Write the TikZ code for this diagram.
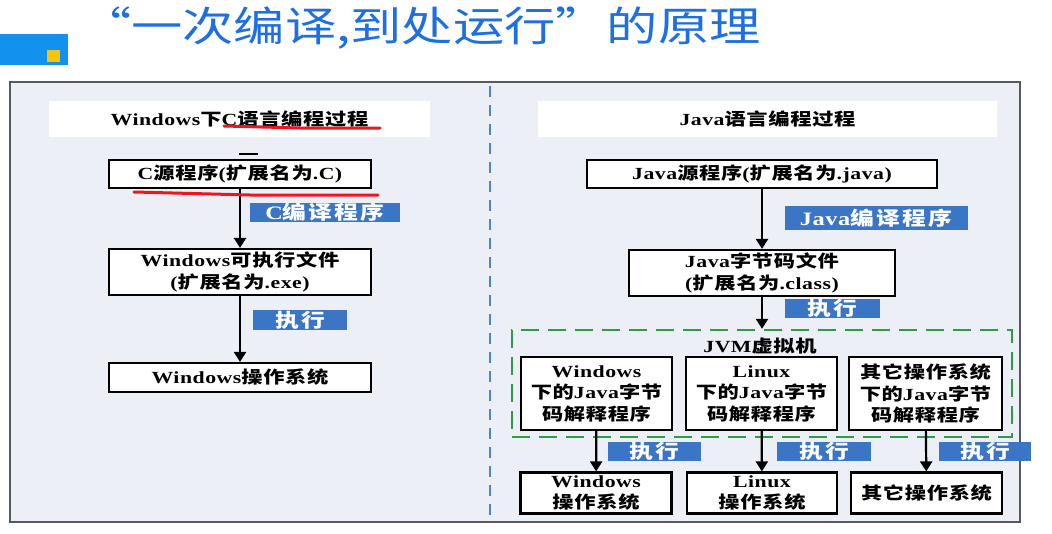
\documentclass[tikz,border=0pt]{standalone}
\usepackage{fontspec}
\setmainfont{Liberation Serif}[FakeStretch=1.28, LetterSpace=3]
\newfontfamily\cjk{Noto Sans CJK SC}[FakeStretch=1.25, LetterSpace=4]
\newfontfamily\cjkw{Noto Sans CJK SC}[FakeStretch=1.25, LetterSpace=12]
\newfontfamily\cjkt{Noto Sans CJK SC}[FakeStretch=1.25]
\newcommand\zh[1]{{\cjk #1}}
\definecolor{sqblue}{HTML}{1391EE}
\definecolor{sqyel}{HTML}{F7C408}
\definecolor{ttlblue}{HTML}{1E6FE3}
\definecolor{panelbg}{HTML}{ECEFF6}
\definecolor{panelline}{HTML}{555A60}
\definecolor{divblue}{HTML}{4A86D0}
\definecolor{lblblue}{HTML}{3B76C6}
\definecolor{jvmgreen}{HTML}{2E9B45}
\definecolor{redline}{HTML}{F0141E}
\usetikzlibrary{arrows.meta}
\tikzset{
  ttl/.style={text=ttlblue, font=\cjkt\fontsize{41}{45}\selectfont, inner sep=0},
  header/.style={fill=white, draw=none, minimum height=36, inner sep=0, font=\bfseries\fontsize{17}{20}\selectfont},
  box/.style={fill=white, draw=black, line width=2.2pt, inner sep=0, align=center, font=\bfseries\fontsize{17}{21.5}\selectfont},
  lbl/.style={fill=lblblue, text=white, inner sep=0, font=\let\cjk\cjkw\bfseries\fontsize{19}{20}\selectfont},
  arr/.style={draw=black, line width=2.2pt, -{Triangle[length=10pt,width=12pt]}},
  jvmbox/.style={draw=jvmgreen, line width=2.4pt, dash pattern=on 18pt off 9pt, inner sep=0},
  uline/.style={draw=redline, line width=3pt, line cap=round}
}
\begin{document}
\begin{tikzpicture}[x=1pt,y=-1pt]
\useasboundingbox (0,0) rectangle (1052,533);
\fill[white] (0,0) rectangle (1052,533);
% corner squares
\fill[sqblue] (0,34) rectangle (68,65);
\fill[sqyel] (47,50) rectangle (60,62);
% title
\node[ttl, anchor=west] (title) at (80,28) {“一次编译,到处运行”的原理};
% panel
\draw[fill=panelbg, draw=panelline, line width=1.5pt] (10,82) rectangle (1020,522);
\draw[divblue, line width=2.2pt, dash pattern=on 11pt off 8pt] (490,86) -- (490,520);
% headers
\node[header, minimum width=381] (hl) at (239.5,118.5) {Windows\zh{下}C\zh{语言编程过程}};
\node[header, minimum width=459] (hr) at (767.5,118.5) {Java\zh{语言编程过程}};
% left column
\node[box, minimum width=262, minimum height=28] (csrc) at (240,174) {C\zh{源程序}(\zh{扩展名为}.C)};
\node[box, minimum width=262, minimum height=46] (exe) at (240,272) {Windows\zh{可执行文件}\\(\zh{扩展名为}.exe)};
\node[box, minimum width=262, minimum height=29] (wos) at (240,377.5) {Windows\zh{操作系统}};
\draw[arr] (csrc) -- (exe);
\draw[arr] (exe) -- (wos);
\node[lbl, minimum width=150, minimum height=19] (lc) at (325,212.5) {C\zh{编译程序}};
\node[lbl, minimum width=94, minimum height=20] (lx1) at (300,320) {\zh{执行}};
% stray mark and red underlines
\draw[black, line width=1.2pt] (239,154) -- (258,154);
\draw[uline] (224,126) -- (300,128) -- (380,128);
\draw[uline] (134,192) -- (250,195) -- (378,195);
% right column
\node[box, minimum width=350, minimum height=28] (jsrc) at (762,174) {Java\zh{源程序}(\zh{扩展名为}.java)};
\node[box, minimum width=266, minimum height=46] (cls) at (762,273) {Java\zh{字节码文件}\\(\zh{扩展名为}.class)};
\node[jvmbox, minimum width=500, minimum height=107] (jvm) at (762,383.5) {};
\node[font=\bfseries\fontsize{17}{20}\selectfont, inner sep=0] (jvmt) at (760,346) {JVM\zh{虚拟机}};
\draw[arr] (jsrc) -- (cls);
\draw[arr] (cls) -- (jvm.north);
\node[lbl, minimum width=183, minimum height=24] (lj) at (876,218) {Java\zh{编译程序}};
\node[lbl, minimum width=95, minimum height=19] (lx2) at (832,308.5) {\zh{执行}};
% interpreters
\node[box, minimum width=151, minimum height=73] (i1) at (596.5,393.5) {Windows\\\zh{下的}Java\zh{字节}\\\zh{码解释程序}};
\node[box, minimum width=151, minimum height=73] (i2) at (761.5,393.5) {Linux\\\zh{下的}Java\zh{字节}\\\zh{码解释程序}};
\node[box, minimum width=153, minimum height=73] (i3) at (925.5,393.5) {\zh{其它操作系统}\\\zh{下的}Java\zh{字节}\\\zh{码解释程序}};
% operating systems
\node[box, minimum width=151, minimum height=41] (o1) at (596,493) {Windows\\\zh{操作系统}};
\node[box, minimum width=150, minimum height=41] (o2) at (762,493) {Linux\\\zh{操作系统}};
\node[box, minimum width=151, minimum height=41] (o3) at (926.5,493) {\zh{其它操作系统}};
\draw[arr] (i1) -- (o1);
\draw[arr] (i2) -- (o2);
\draw[arr] (i3) -- (o3);
\node[lbl, minimum width=93, minimum height=19] (lx3) at (654.5,451.5) {\zh{执行}};
\node[lbl, minimum width=94, minimum height=19] (lx4) at (824,451.5) {\zh{执行}};
\node[lbl, minimum width=92, minimum height=19] (lx5) at (985,451.5) {\zh{执行}};
\end{tikzpicture}
\end{document}
